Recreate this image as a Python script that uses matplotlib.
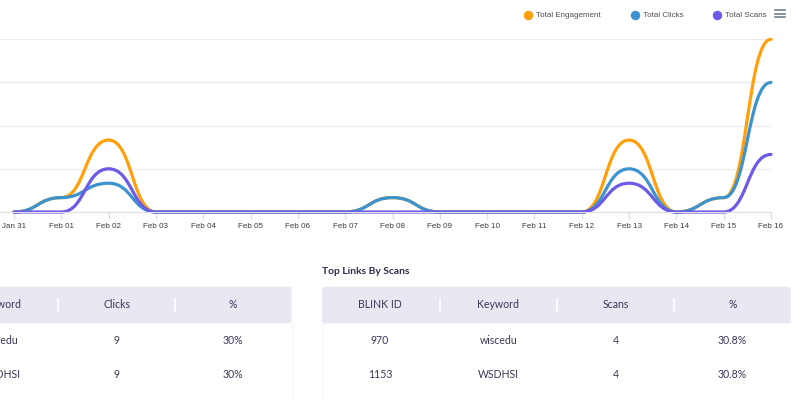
import numpy as np
import matplotlib
matplotlib.use("Agg")
import matplotlib.pyplot as plt
from matplotlib.path import Path
from matplotlib.patches import PathPatch, FancyBboxPatch
from matplotlib.lines import Line2D

# ---------- data ----------
dates = ["Jan 31", "Feb 01", "Feb 02", "Feb 03", "Feb 04", "Feb 05", "Feb 06", "Feb 07",
         "Feb 08", "Feb 09", "Feb 10", "Feb 11", "Feb 12", "Feb 13", "Feb 14", "Feb 15", "Feb 16"]
engagement = [0, 1, 5, 0, 0, 0, 0, 0, 1, 0, 0, 0, 0, 5, 0, 1, 12]
clicks = [0, 1, 2, 0, 0, 0, 0, 0, 1, 0, 0, 0, 0, 3, 0, 1, 9]
scans = [0, 0, 3, 0, 0, 0, 0, 0, 0, 0, 0, 0, 0, 2, 0, 0, 4]
series_names = ["Total Engagement", "Total Clicks", "Total Scans"]
series_colors = ["#FF9F0A", "#3D93CE", "#6B5BE8"]

clicks_cols = ["Keyword", "Clicks", "%"]
clicks_rows = [["wiscedu", "9", "30%"], ["WSDHSI", "9", "30%"]]
scans_title = "Top Links By Scans"
scans_cols = ["BLINK ID", "Keyword", "Scans", "%"]
scans_rows = [["970", "wiscedu", "4", "30.8%"], ["1153", "WSDHSI", "4", "30.8%"]]

W, H = 800, 400
fig = plt.figure(figsize=(W / 100, H / 100), dpi=100)
fig.patch.set_facecolor("white")


def px_box(x0, y0, x1, y1):
    return [x0 / W, 1 - y1 / H, (x1 - x0) / W, (y1 - y0) / H]


# ---------- line chart ----------
ax = fig.add_axes(px_box(0, 39.3, 771, 212))
x = np.arange(len(dates))


def smooth_path(xs, ys):
    # bezier segments with horizontal tangents at each point (apex "smooth" curve)
    verts = [(xs[0], ys[0])]
    codes = [Path.MOVETO]
    for i in range(len(xs) - 1):
        d = (xs[i + 1] - xs[i]) / 2
        verts += [(xs[i] + d, ys[i]), (xs[i + 1] - d, ys[i + 1]), (xs[i + 1], ys[i + 1])]
        codes += [Path.CURVE4] * 3
    return Path(verts, codes)


for vals, c in zip([engagement, clicks, scans], series_colors):
    ax.add_patch(PathPatch(smooth_path(x, vals), fill=False, edgecolor=c, lw=2.3,
                           capstyle="round", joinstyle="round", clip_on=False))

ax.set_xlim(-14 / 47.3, 16)
ax.set_ylim(0, 12)
ax.set_yticks([0, 3, 6, 9, 12])
ax.yaxis.grid(True, color="#ECECEC", lw=1)
ax.set_axisbelow(True)
ax.tick_params(axis="y", left=False, labelleft=False)
ax.set_xticks(x)
ax.set_xticklabels(dates, fontsize=5.8, color="#373D3F", family="Liberation Sans")
ax.tick_params(axis="x", length=5, color="#E0E0E0", width=1, pad=3)
for s in ["top", "right", "left"]:
    ax.spines[s].set_visible(False)
ax.spines["bottom"].set_color("#E0E0E0")

handles = [Line2D([], [], ls="none", marker="o", ms=5.8, color=c) for c in series_colors]
fig.legend(handles, series_names, loc="center left", bbox_to_anchor=(523.2 / W, 1 - 15.5 / H),
           ncol=3, frameon=False, borderaxespad=0, borderpad=0,
           handletextpad=0.4, columnspacing=3.6, handlelength=1.2,
           prop={"family": "Liberation Sans", "size": 5.8}, labelcolor="#4A5055")

# ---------- overlay for tables ----------
ov = fig.add_axes([0, 0, 1, 1])
ov.set_xlim(0, W)
ov.set_ylim(H, 0)
ov.axis("off")
ov.patch.set_alpha(0)

# hamburger menu
for yy in [10, 13.5, 17]:
    ov.plot([775, 785], [yy, yy], color="#6E8192", lw=1.2)

head_bg = "#E8E7F2"
txt_col = "#3A3857"
tfont = {"family": "Lato", "size": 7.6, "color": txt_col}
hy0, hy1 = 286.7, 323.3
row_y = [340, 374.5]


def draw_table(x0, x1, centers, seps, cols, rows):
    ov.add_patch(FancyBboxPatch((x0, hy0), x1 - x0, hy1 - hy0,
                                boxstyle="round,pad=0,rounding_size=3",
                                fc=head_bg, ec="none"))
    for sx in seps:
        ov.plot([sx, sx], [299, 311], color="white", lw=1.2)
    for cx, t in zip(centers, cols):
        ov.text(cx, 305, t, ha="center", va="center", **tfont)
    for ry, row in zip(row_y, rows):
        for cx, t in zip(centers, row):
            ov.text(cx, ry, t, ha="center", va="center", **tfont)


# the left table is cut by the left edge, as in the screenshot
draw_table(-20, 291.7, [0, 116.5, 233], [58, 174.5], clicks_cols, clicks_rows)
draw_table(322, 790.7, [380, 498.3, 615.7, 732.3], [439.5, 557.3, 674],
           scans_cols, scans_rows)
ov.plot([291.5, 291.5], [323, 400], color="#F4F4F6", lw=0.8)
ov.plot([322.5, 322.5], [323, 400], color="#F4F4F6", lw=0.8)
ov.text(322, 271.5, scans_title, ha="left", va="center", family="Lato",
        fontweight="bold", size=7.4, color="#2E2C4A")

fig.savefig("out.png", dpi=100)
